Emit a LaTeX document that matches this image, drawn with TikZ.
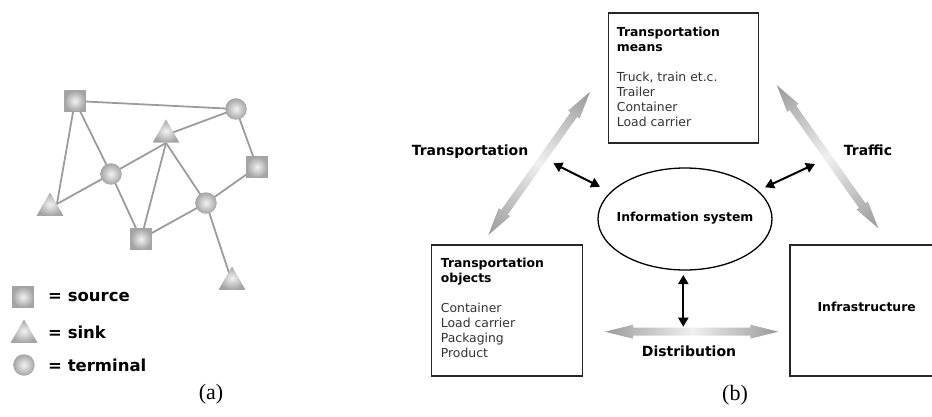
\documentclass[tikz,border=0pt]{standalone}
\usepackage{fontspec}
\setmainfont{DejaVu Sans}
\newfontfamily\capfont{Liberation Serif}
\usetikzlibrary{shapes.geometric,arrows.meta,backgrounds}
\definecolor{edgegray}{HTML}{9C9C9C}
\definecolor{shapeout}{HTML}{A4A4A4}
\definecolor{shapein}{HTML}{F2F2F2}
\definecolor{arrgray}{HTML}{9A9A9A}
\definecolor{arrlight}{HTML}{F0F0F0}
\definecolor{bodytext}{HTML}{333333}
\newcommand{\gradarrow}[4]{%
  \begin{scope}[transform canvas={shift={(#1,#2)},rotate=#3}]
    \shade[left color=arrgray, right color=arrgray, middle color=arrlight]
      (0,0) -- (28,-7) -- (28,-4) -- (#4-28,-4) -- (#4-28,-7) -- (#4,0)
      -- (#4-28,7) -- (#4-28,4) -- (28,4) -- (28,7) -- cycle;
  \end{scope}}
\begin{document}
\begin{tikzpicture}[x=1pt,y=-1pt,
  netedge/.style={draw=edgegray, line width=1.8pt},
  srcnode/.style={rectangle, minimum size=21pt, inner sep=0, draw=shapeout, line width=0.8pt, inner color=shapein, outer color=shapeout},
  sinknode/.style={regular polygon, regular polygon sides=3, minimum size=31pt, inner sep=0, inner color=shapein, outer color=shapeout},
  termnode/.style={circle, minimum size=21.5pt, inner sep=0, inner color=shapein, outer color=shapeout},
  legendtext/.style={anchor=west, inner sep=0, font=\bfseries\fontsize{16.5}{19}\selectfont},
  boxstyle/.style={rectangle, draw=black!85, line width=1.4pt, inner sep=0},
  boxtext/.style={anchor=north west, inner sep=0, align=left, text=bodytext, font=\fontsize{12.4}{15}\selectfont},
  flowlabel/.style={font=\bfseries\fontsize{14}{17}\selectfont, inner sep=0},
  infoarrow/.style={line width=2pt, {Triangle[length=9pt,width=10pt]}-{Triangle[length=9pt,width=10pt]}},
  caption/.style={font=\capfont\fontsize{22}{26}\selectfont, inner sep=0}
]
\useasboundingbox (0,0) rectangle (932,417);
\clip (0,0) rectangle (932,417);

% ---------- (a) network ----------
\node[srcnode]  (sq1) at (75,101) {};
\node[termnode] (ci1) at (236,109) {};
\node[sinknode] (tr1) at (166,135) {};
\node[srcnode]  (sq2) at (257,167) {};
\node[termnode] (ci2) at (111,174) {};
\node[sinknode] (tr2) at (50,208) {};
\node[termnode] (ci3) at (206,203) {};
\node[srcnode]  (sq3) at (141,239) {};
\node[sinknode] (tr3) at (232,282) {};

\begin{scope}[on background layer]
  \draw[netedge] (sq1.center) -- (ci1.center);
  \draw[netedge] (sq1.center) -- (tr2.side 3);
  \draw[netedge] (sq1.center) -- (ci2.center);
  \draw[netedge] (ci1.center) -- (tr1.center);
  \draw[netedge] (ci1.center) -- (sq2.center);
  \draw[netedge] (tr1.side 2) -- (ci2.center);
  \draw[netedge] (tr1.side 2) -- (sq3.center);
  \draw[netedge] (tr1.side 2) -- (ci3.center);
  \draw[netedge] (ci2.center) -- (tr2.side 3);
  \draw[netedge] (ci2.center) -- (sq3.center);
  \draw[netedge] (sq3.center) -- (ci3.center);
  \draw[netedge] (sq2.center) -- (ci3.center);
  \draw[netedge] (ci3.center) -- (tr3.center);
\end{scope}

% legend
\node[srcnode]  (lsq) at (23,297) {};
\node[sinknode] (ltr) at (24,335) {};
\node[termnode] (lci) at (24,365) {};
\node[legendtext] (lsqt) at (48,297) {= source};
\node[legendtext] (ltrt) at (48,332) {= sink};
\node[legendtext] (lcit) at (48,365) {= terminal};

\node[caption] (capa) at (211,394) {(a)};

% ---------- (b) ----------
\node[boxstyle, minimum width=150pt, minimum height=130pt] (means) at (683.2,78) {};
\node[boxstyle, minimum width=151pt, minimum height=131pt] (objects) at (507.2,310.5) {};
\node[boxstyle, minimum width=153pt, minimum height=131pt] (infra) at (866.5,310.3) {};
\node[ellipse, draw=black, line width=1.3pt, minimum width=174pt, minimum height=102pt, inner sep=0] (info) at (685,219) {};

\node[boxtext] (meanstext) at (616.7,27) {{\color{black}\bfseries Transportation}\\{\color{black}\bfseries means}\\[15pt]Truck, train et.c.\\Trailer\\Container\\Load carrier};
\node[boxtext] (objtext) at (440.7,258) {{\color{black}\bfseries Transportation}\\{\color{black}\bfseries objects}\\[15pt]Container\\Load carrier\\Packaging\\Product};
\node[font=\bfseries\fontsize{12.4}{15}\selectfont, inner sep=0] (infratext) at (866.7,306.7) {Infrastructure};
\node[font=\bfseries\fontsize{12.4}{15}\selectfont, inner sep=0] (infotext) at (685,218.5) {Information system};

% gradient flow arrows
\gradarrow{488.3}{235}{54.6}{175.7}
\gradarrow{776.7}{85}{-54.66}{175.7}
\gradarrow{605}{331.7}{0}{173.3}

\node[flowlabel] (ltransp) at (470,151.7) {Transportation};
\node[flowlabel] (ltraffic) at (868,150.7) {Traffic};
\node[flowlabel] (ldistr) at (689,351.7) {Distribution};

% black double arrows to the information system
\coordinate (tA) at (553.3,163.3);
\coordinate (tB) at (600,186.7);
\coordinate (fA) at (765,187.3);
\coordinate (fB) at (815,164);
\coordinate (dA) at (683.3,275);
\coordinate (dB) at (683.3,326.7);
\draw[infoarrow] (tA) -- (tB);
\draw[infoarrow] (fA) -- (fB);
\draw[infoarrow] (dA) -- (dB);

\node[caption] (capb) at (735,395) {(b)};
\end{tikzpicture}
\end{document}
